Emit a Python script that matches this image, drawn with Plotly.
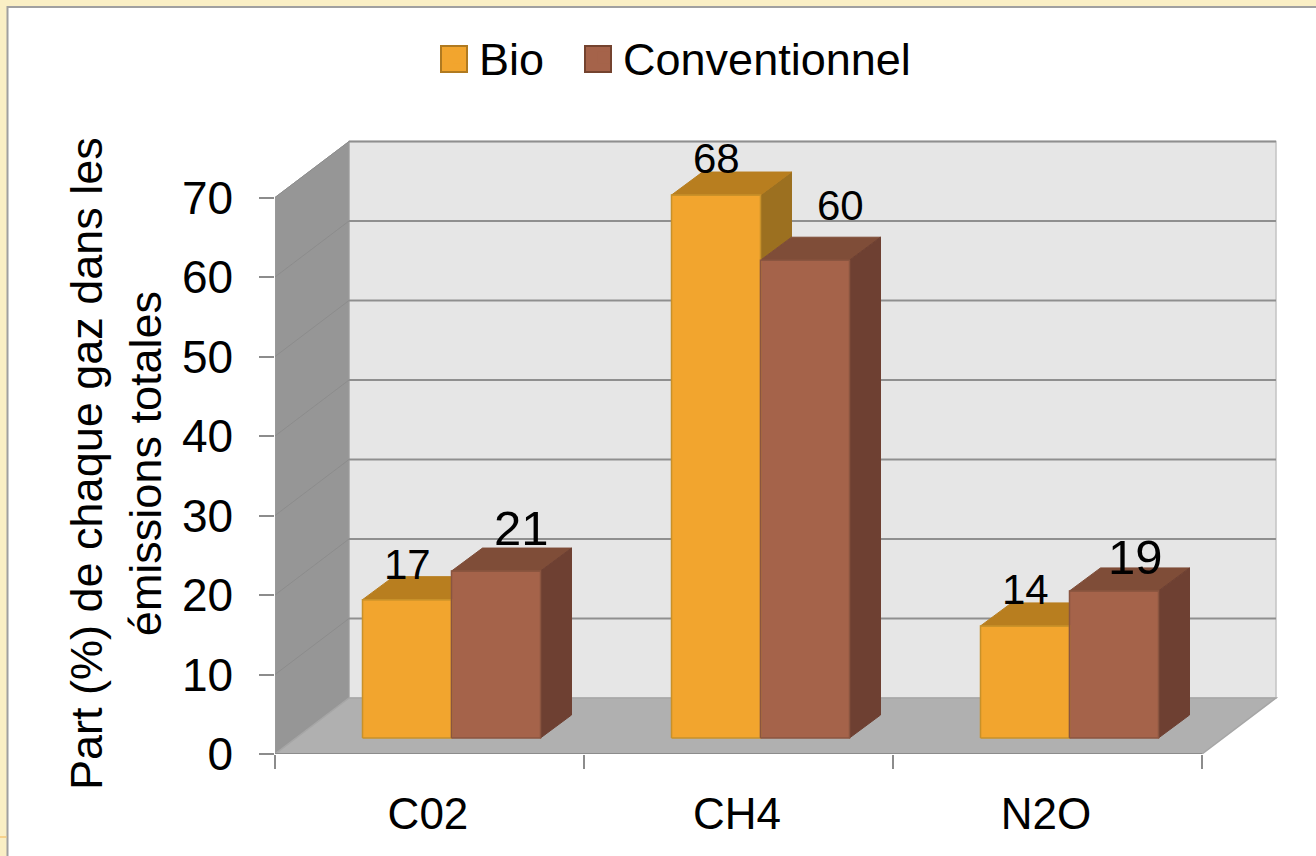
import plotly.graph_objects as go

categories = ["C02", "CH4", "N2O"]
series_names = ["Bio", "Conventionnel"]
bio_labels = [17, 68, 14]
conv_labels = [21, 60, 19]
bio_heights = [17.4, 68.3, 14.1]
conv_heights = [21.0, 60.1, 18.5]
y_ticks = [0, 10, 20, 30, 40, 50, 60, 70]
y_title = "Part (%) de chaque gaz dans les<br>émissions totales"

W, H = 1316, 856
L, R, T, B = 275, 26, 100, 102
PW, PH = W - L - R, H - T - B
CAT_PX = 309.0
UNIT_PX = 7.95
xmax = PW / CAT_PX
ymax = PH / UNIT_PX
FONT = "Liberation Sans"


def px(x):
    return (x - L) / PW


def py(y):
    return (H - B - y) / PH


WALL_DX, WALL_DY = 74 / CAT_PX, 56 / UNIT_PX
BAR_DX, BAR_DY = 31 / CAT_PX, 23 / UNIT_PX
BASE = 16 / UNIT_PX
BAR_W = 89 / CAT_PX
BAR_START = 87.5 / CAT_PX
NC = len(categories)

ORANGE, ORANGE_TOP, ORANGE_SIDE, ORANGE_EDGE = "#F2A52E", "#B87E1F", "#9C7020", "#C8912A"
BROWN, BROWN_TOP, BROWN_SIDE, BROWN_EDGE = "#A5634A", "#7F4D38", "#6E4032", "#8A5540"


def poly(xs, ys, color):
    return go.Scatter(x=xs + xs[:1], y=ys + ys[:1], mode="lines", fill="toself", fillcolor=color,
                      line=dict(color=color, width=1), hoverinfo="skip", showlegend=False)


def outline(l, r, b, t, color):
    return go.Scatter(x=[l, r, r, l, l], y=[b, b, t, t, b], mode="lines",
                      line=dict(color=color, width=1.5), hoverinfo="skip", showlegend=False)


fig = go.Figure()
bio_x = [i + BAR_START + BAR_W / 2 for i in range(NC)]
conv_x = [i + BAR_START + 3 * BAR_W / 2 for i in range(NC)]
fig.add_trace(go.Bar(x=bio_x, y=bio_heights, base=BASE, width=BAR_W,
                     name=series_names[0] + "\u00a0\u00a0\u2009",
                     marker=dict(color=ORANGE, line=dict(width=0))))
fig.add_trace(go.Bar(x=conv_x, y=conv_heights, base=BASE, width=BAR_W, name=series_names[1],
                     marker=dict(color=BROWN, line=dict(width=0))))

for i in range(NC):
    l = i + BAR_START
    m = l + BAR_W
    r = m + BAR_W
    tb = BASE + bio_heights[i]
    tc = BASE + conv_heights[i]
    if tc >= tb:
        fig.add_trace(poly([l, l + BAR_DX, m, m], [tb, tb + BAR_DY, tb + BAR_DY, tb], ORANGE_TOP))
    else:
        fig.add_trace(poly([m, m, m + BAR_DX, m + BAR_DX], [tc, tb, tb + BAR_DY, tc + BAR_DY], ORANGE_SIDE))
        fig.add_trace(poly([l, l + BAR_DX, m + BAR_DX, m], [tb, tb + BAR_DY, tb + BAR_DY, tb], ORANGE_TOP))
    fig.add_trace(poly([m, m + BAR_DX, r + BAR_DX, r], [tc, tc + BAR_DY, tc + BAR_DY, tc], BROWN_TOP))
    fig.add_trace(poly([r, r, r + BAR_DX, r + BAR_DX],
                       [BASE, tc, tc + BAR_DY, BASE + BAR_DY], BROWN_SIDE))
    fig.add_trace(outline(l, m, BASE, tb, ORANGE_EDGE))
    fig.add_trace(outline(m, r, BASE, tc, BROWN_EDGE))

shapes = []
# page frame
shapes.append(dict(type="rect", xref="paper", yref="paper", x0=px(7.5), x1=px(W + 5), y0=py(H + 5), y1=py(7),
                   fillcolor="white", line=dict(color="#A0A0A0", width=2), layer="below"))
shapes.append(dict(type="line", xref="paper", yref="paper", x0=px(0), x1=px(6.5), y0=py(837), y1=py(837),
                   line=dict(color="#F6C878", width=1.5), layer="below"))


def path(pts):
    return "M" + " L".join(f"{a},{b}" for a, b in pts) + " Z"


top_tick = y_ticks[-1]
shapes.append(dict(type="path", path=path([(WALL_DX, WALL_DY), (NC + WALL_DX, WALL_DY),
                                           (NC + WALL_DX, top_tick + WALL_DY), (WALL_DX, top_tick + WALL_DY)]),
                   fillcolor="#E6E6E6", line=dict(color="#C4C4C4", width=1.5), layer="below"))
shapes.append(dict(type="path", path=path([(0, 0), (WALL_DX, WALL_DY), (WALL_DX, top_tick + WALL_DY), (0, top_tick)]),
                   fillcolor="#969696", line=dict(color="#9C9C9C", width=1), layer="below"))
shapes.append(dict(type="path", path=path([(0, 0), (NC, 0), (NC + WALL_DX, WALL_DY), (WALL_DX, WALL_DY)]),
                   fillcolor="#B0B0B0", line=dict(color="#A6A6A6", width=1.5), layer="below"))
for v in y_ticks[1:]:
    shapes.append(dict(type="line", x0=0, y0=v, x1=WALL_DX, y1=v + WALL_DY,
                       line=dict(color="#8C8C8C", width=1), layer="below"))
    shapes.append(dict(type="line", x0=WALL_DX, y0=v + WALL_DY, x1=NC + WALL_DX, y1=v + WALL_DY,
                       line=dict(color="#8F8F8F", width=2), layer="below"))
shapes.append(dict(type="line", x0=0, y0=0, x1=NC, y1=0, line=dict(color="#8C8C8C", width=2), layer="below"))
# legend swatches behind the native keys
for x0, fill, edge in [(441, ORANGE, "#B07A20"), (585, BROWN, "#74432F")]:
    shapes.append(dict(type="rect", xref="paper", yref="paper", x0=px(x0), x1=px(x0 + 26),
                       y0=py(72), y1=py(46), fillcolor=fill, line=dict(color=edge, width=2), layer="below"))

annotations = [dict(xref="paper", yref="paper", x=px(59), y=py(464), text=y_title, textangle=-90,
                    showarrow=False, font=dict(family=FONT, size=45, color="black"), align="center")]
label_shift = [[(0, 35), (25, 43)], [(0, 37), (35, 55)], [(0, 36), (21, 34)]]
label_size = [[42, 49], [42, 42], [42, 49]]
for i in range(NC):
    for xs, hs, ls, j in [(bio_x, bio_heights, bio_labels, 0), (conv_x, conv_heights, conv_labels, 1)]:
        annotations.append(dict(x=xs[i], y=BASE + hs[i], text=str(ls[i]), showarrow=False, yanchor="middle",
                                xshift=label_shift[i][j][0], yshift=label_shift[i][j][1],
                                font=dict(family=FONT, size=label_size[i][j], color="black")))

fig.update_layout(
    width=W, height=H, autosize=False,
    margin=dict(l=L, r=R, t=T, b=B, pad=0),
    paper_bgcolor="#FAEFC5", plot_bgcolor="rgba(0,0,0,0)",
    barmode="overlay", bargap=0,
    shapes=shapes, annotations=annotations,
    font=dict(family=FONT, color="black"),
    legend=dict(orientation="h", xref="paper", yref="paper", x=px(439), y=py(22), xanchor="left", yanchor="top",
                font=dict(family=FONT, size=45, color="black"), bgcolor="rgba(0,0,0,0)",
                traceorder="normal", itemclick=False, itemdoubleclick=False),
    xaxis=dict(range=[0, xmax], showgrid=False, zeroline=False, showline=False, automargin=False,
               tickmode="array", tickvals=[i + 0.495 for i in range(NC)], ticktext=categories,
               ticks="outside", ticklen=21, tickcolor="rgba(0,0,0,0)",
               tickfont=dict(family=FONT, size=44, color="black"),
               minor=dict(tickmode="array", tickvals=list(range(NC + 1)), ticks="outside", ticklen=14,
                          tickcolor="#8C8C8C", tickwidth=1.5)),
    yaxis=dict(range=[0, ymax], showgrid=False, zeroline=False, showline=False, automargin=False,
               tickmode="array", tickvals=y_ticks, ticktext=[f"{v}\u00a0\u200a" for v in y_ticks],
               ticks="outside", ticklen=15, tickcolor="#8C8C8C", tickwidth=1.5,
               tickfont=dict(family=FONT, size=46, color="black")),
)

fig.write_html("out.html", config=dict(displayModeBar=False),
               post_script="document.body.style.margin='0';document.documentElement.style.overflow='hidden';")
